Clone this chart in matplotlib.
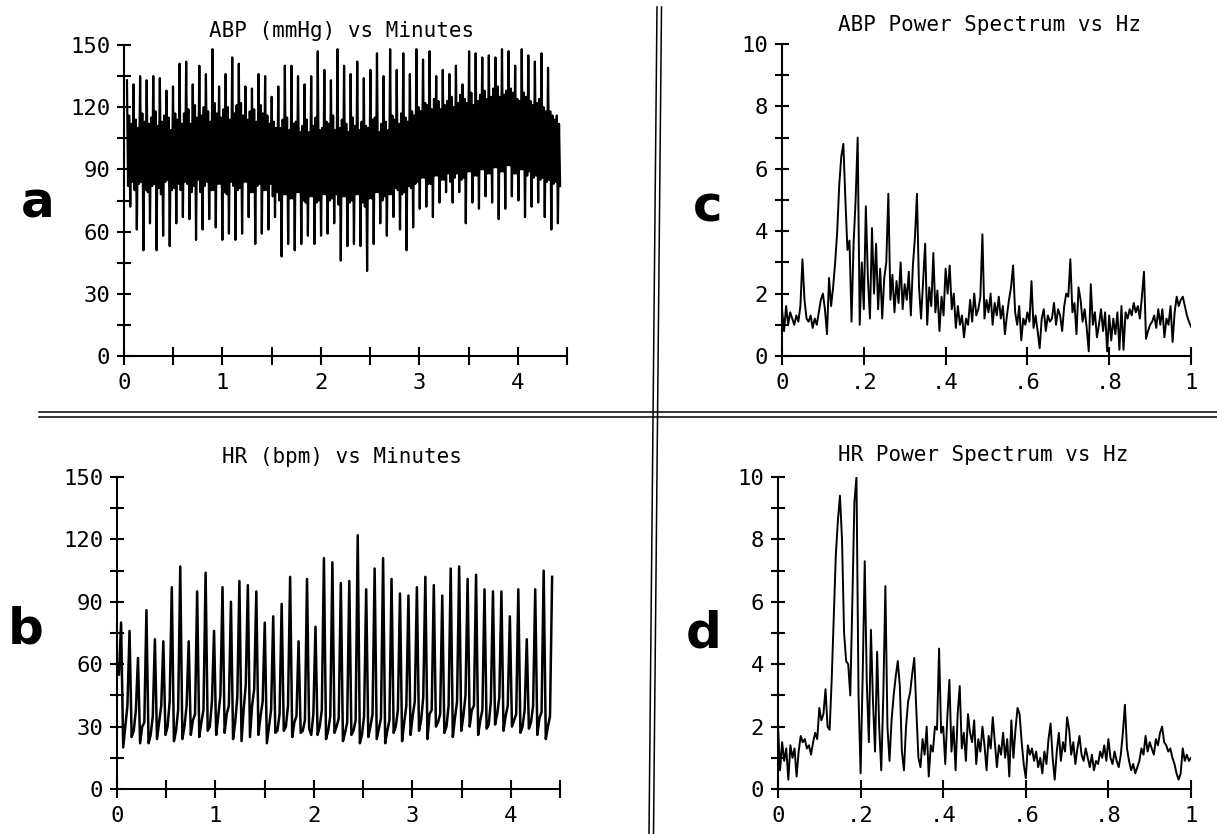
import matplotlib.pyplot as plt
import numpy as np
from matplotlib.lines import Line2D

plt.rcParams["font.family"] = ["DejaVu Sans Mono", "DejaVu Sans"]

W, H = 1217, 834

# ABP (mmHg) vs minutes: upward spikes, downward spikes and the dense core between them
abp_peak = [133, 131, 135, 133, 135, 134, 128, 130, 141, 142,
            131, 140, 136, 148, 130, 136, 144, 141, 130, 129,
            136, 135, 125, 130, 140, 140, 135, 131, 135, 147,
            138, 133, 148, 140, 136, 142, 134, 138, 146, 135,
            148, 138, 146, 136, 148, 143, 147, 135, 138, 136,
            140, 131, 147, 146, 144, 145, 144, 148, 147, 140,
            148, 145, 142, 146, 139, 114]
abp_trough = [72, 61, 51, 64, 51, 58, 53, 64, 67, 66,
              56, 61, 66, 62, 56, 59, 56, 59, 67, 54,
              59, 61, 67, 48, 54, 51, 54, 58, 54, 58,
              59, 64, 46, 53, 54, 53, 41, 54, 64, 58,
              67, 61, 51, 62, 71, 72, 67, 74, 79, 74,
              79, 64, 74, 71, 77, 74, 66, 71, 77, 75,
              67, 72, 74, 67, 61, 64]
# core band, four samples per spike cycle: high, low, high, low
abp_core = [116, 82, 112, 84, 114, 80, 110, 83, 117, 84, 113, 80, 112, 79, 115, 82,
            118, 83, 111, 81, 113, 78, 116, 84, 115, 85, 109, 80, 117, 81, 114, 83,
            112, 80, 117, 84, 119, 83, 112, 79, 121, 82, 115, 85, 116, 79, 120, 82,
            118, 84, 113, 80, 122, 80, 117, 83, 115, 83, 119, 79, 120, 78, 114, 84,
            117, 82, 121, 80, 122, 81, 116, 84, 114, 84, 118, 79, 119, 79, 113, 82,
            121, 83, 117, 80, 116, 80, 112, 83, 113, 77, 110, 79, 110, 75, 114, 78,
            115, 78, 109, 76, 112, 76, 113, 79, 108, 79, 111, 75, 114, 74, 108, 77,
            111, 77, 115, 74, 109, 75, 110, 78, 113, 78, 112, 75, 116, 76, 109, 78,
            110, 73, 114, 77, 112, 77, 108, 74, 115, 75, 111, 78, 109, 78, 113, 74,
            111, 72, 110, 76, 114, 76, 115, 79, 108, 79, 112, 75, 113, 77, 109, 78,
            116, 78, 114, 81, 112, 80, 117, 78, 115, 79, 113, 82, 118, 81, 116, 83,
            120, 84, 118, 86, 122, 86, 121, 83, 119, 83, 124, 87, 123, 87, 119, 85,
            121, 85, 123, 88, 125, 84, 120, 86, 122, 88, 126, 85, 124, 86, 122, 89,
            127, 89, 121, 87, 123, 87, 126, 90, 128, 90, 124, 88, 125, 88, 129, 91,
            130, 91, 125, 89, 126, 89, 128, 92, 129, 92, 127, 88, 124, 88, 123, 90,
            127, 90, 125, 87, 123, 89, 121, 86, 122, 87, 124, 85, 120, 86, 118, 84,
            118, 85, 116, 83, 116, 84, 112, 82]

# HR (bpm) vs minutes: level before each spike, spike top, drop after it, level after the drop
hr_pre = [55, 40, 38, 32, 35, 40, 42, 38, 40, 36,
          38, 42, 45, 40, 44, 50, 48, 42, 38, 36,
          40, 35, 33, 36, 38, 35, 34, 32, 33, 35,
          36, 34, 33, 38, 40, 42, 44, 38, 36, 40,
          42, 45, 40, 38, 42, 44, 40, 36, 38, 40,
          37, 35]
hr_peak = [80, 76, 63, 86, 72, 71, 97, 107, 71, 95,
           104, 76, 97, 90, 100, 98, 95, 80, 83, 89,
           102, 71, 101, 78, 111, 109, 99, 100, 122, 96,
           106, 111, 101, 94, 93, 97, 102, 98, 93, 106,
           107, 101, 103, 96, 95, 95, 83, 96, 72, 96,
           105, 102]
hr_trough = [20, 25, 22, 22, 24, 26, 23, 24, 26, 25,
             28, 26, 27, 24, 23, 25, 26, 22, 27, 28,
             25, 27, 29, 26, 24, 27, 23, 26, 22, 25,
             24, 22, 27, 23, 26, 28, 24, 30, 27, 25,
             28, 30, 26, 29, 31, 28, 30, 27, 29, 26,
             24]
hr_post = [30, 28, 30, 26, 32, 30, 28, 30, 33, 32,
           30, 35, 36, 32, 38, 40, 35, 30, 28, 30,
           32, 28, 26, 30, 28, 30, 27, 28, 26, 30,
           29, 28, 30, 32, 35, 33, 36, 32, 30, 34,
           35, 38, 33, 31, 36, 35, 33, 30, 32, 34,
           30]

# power spectra, 0 to 1 Hz in steps of 0.005 Hz
abp_spec = [1.5, 0.8, 1.6, 1.0, 1.4, 1.2, 1.0, 1.3, 1.1, 1.6,
            3.1, 1.8, 1.2, 1.1, 1.3, 0.9, 1.2, 1.0, 1.4, 1.8,
            2.0, 1.5, 0.7, 2.5, 1.6, 2.2, 3.0, 4.0, 5.5, 6.4,
            6.8, 5.0, 3.4, 3.7, 1.1, 3.6, 5.0, 7.0, 1.0, 3.0,
            1.5, 4.8, 2.5, 1.2, 4.1, 2.0, 3.6, 1.5, 2.8, 1.2,
            2.5, 3.0, 5.2, 1.8, 2.6, 1.4, 2.4, 1.7, 3.0, 1.5,
            2.3, 1.8, 2.7, 1.3, 2.9, 3.8, 5.2, 2.2, 1.2, 2.4,
            3.6, 1.0, 2.2, 1.6, 3.3, 1.4, 2.1, 0.8, 1.9, 1.3,
            2.8, 2.0, 2.9, 1.5, 2.0, 0.9, 1.6, 1.0, 1.3, 0.6,
            1.2, 1.0, 1.8, 1.1, 2.0, 1.3, 1.5, 1.9, 3.9, 1.2,
            1.8, 1.4, 2.0, 1.0, 1.7, 1.3, 1.9, 1.2, 1.6, 0.7,
            1.3, 1.8, 2.2, 2.9, 1.4, 1.0, 1.6, 0.5, 1.2, 1.0,
            1.4, 1.1, 2.4, 0.9, 1.3, 0.8, 0.25, 1.2, 1.5, 0.8,
            1.3, 1.1, 1.2, 1.7, 1.0, 1.5, 1.3, 0.8, 1.6, 2.0,
            1.9, 3.1, 1.4, 1.7, 0.7, 2.2, 1.8, 1.1, 1.5, 0.9,
            0.15, 2.3, 1.0, 1.4, 0.6, 1.0, 1.5, 0.8, 1.4, 0.15,
            1.3, 0.5, 1.2, 0.7, 1.4, 0.2, 1.6, 0.2, 1.4, 1.2,
            1.5, 1.3, 1.7, 1.4, 1.6, 1.2, 1.9, 2.7, 0.55, 0.8,
            1.0, 1.1, 1.3, 0.9, 1.5, 1.0, 1.5, 0.6, 1.2, 1.0,
            1.6, 0.45, 1.4, 1.9, 1.6, 1.8, 1.9, 1.6, 1.3, 1.1,
            0.94]
hr_spec = [2.0, 0.6, 1.5, 0.9, 1.3, 0.3, 1.4, 1.0, 1.3, 0.4,
           1.2, 1.7, 1.5, 1.6, 1.3, 1.4, 1.1, 1.5, 1.8, 1.6,
           2.6, 2.2, 2.4, 3.2, 2.0, 1.9, 3.5, 5.5, 7.5, 8.6,
           9.4, 8.0, 5.0, 4.1, 4.0, 3.0, 6.0, 9.2, 10.0, 3.0,
           0.5, 3.6, 7.3, 3.4, 1.5, 5.1, 2.8, 1.2, 4.4, 2.0,
           0.6, 3.0, 6.5, 2.0, 0.9, 2.2, 3.0, 3.6, 4.1, 3.3,
           1.2, 0.6, 2.0, 2.8, 3.1, 3.7, 4.2, 2.5, 1.0, 0.7,
           1.6, 1.1, 2.0, 0.4, 1.4, 1.2, 2.0, 1.9, 4.5, 1.8,
           2.0, 0.8, 2.3, 3.5, 1.2, 2.0, 0.6, 2.4, 3.3, 1.3,
           1.8, 0.9, 2.4, 1.8, 1.5, 2.2, 0.8, 1.6, 1.2, 2.0,
           1.4, 0.6, 1.7, 1.3, 2.3, 1.5, 0.7, 1.4, 1.1, 1.8,
           1.0, 1.6, 0.4, 2.2, 1.0, 1.9, 2.6, 2.4, 1.5, 0.8,
           0.35, 1.4, 1.1, 1.3, 0.9, 1.2, 0.7, 1.0, 0.5, 1.2,
           0.8, 1.6, 2.1, 1.0, 0.3, 1.2, 1.8, 0.9, 1.5, 1.2,
           2.3, 1.9, 1.1, 1.5, 0.8, 1.3, 1.7, 1.1, 0.9, 1.3,
           1.0, 0.7, 1.1, 0.6, 0.9, 0.8, 1.2, 1.0, 1.4, 0.9,
           1.6, 1.0, 0.8, 1.2, 0.9, 0.7, 1.1, 1.8, 2.7, 1.3,
           0.9, 0.6, 0.8, 0.5, 0.7, 0.9, 1.3, 1.1, 1.7, 1.2,
           1.5, 1.3, 1.1, 1.6, 1.4, 1.8, 2.0, 1.5, 1.4, 1.2,
           1.3, 1.0, 0.8, 0.5, 0.3, 0.5, 1.3, 0.9, 1.1, 0.9,
           1.0]

time_ticks = [0, 1, 2, 3, 4]
freq_ticks = [0, 0.2, 0.4, 0.6, 0.8, 1.0]
freq_labels = ["0", ".2", ".4", ".6", ".8", "1"]


def px_box(left, right, bottom, top):
    """axes rectangle from pixel edges of the 1217x834 canvas"""
    return [left / W, 1 - bottom / H, (right - left) / W, (bottom - top) / H]


def style_axes(ax):
    for side in ["top", "right"]:
        ax.spines[side].set_visible(False)
    for side in ["left", "bottom"]:
        ax.spines[side].set_linewidth(1.5)
    ax.tick_params(which="both", direction="inout", width=1.5, labelsize=16)
    ax.tick_params(axis="y", which="both", length=10, pad=5)
    ax.tick_params(axis="x", which="both", length=13, pad=6)
    ax.patch.set_alpha(0)


def time_axes(ax):
    style_axes(ax)
    ax.set_xlim(0, 4.5)
    ax.set_ylim(0, 150)
    ax.set_xticks(time_ticks)
    ax.set_xticks(np.arange(0.5, 4.6, 1.0), minor=True)
    ax.set_yticks(range(0, 151, 30))
    ax.set_yticks(range(15, 150, 30), minor=True)


def spec_axes(ax):
    style_axes(ax)
    ax.set_xlim(0, 1)
    ax.set_ylim(0, 10)
    ax.set_xticks(freq_ticks)
    ax.set_xticklabels(freq_labels)
    ax.set_yticks(range(0, 11, 2))
    ax.set_yticks(range(1, 10, 2), minor=True)


# build the sampled traces: the core samples swing across the band between each spike
abp = []
for i in range(len(abp_peak)):
    c = abp_core[4 * i:4 * i + 4]
    abp += [abp_peak[i], c[1], c[0], abp_trough[i], c[2], c[3]]
abp_t = np.linspace(0.03, 4.43, len(abp))

hr = []
for i in range(len(hr_peak)):
    hr += [hr_pre[i], hr_peak[i]]
    if i < len(hr_trough):
        hr += [hr_trough[i], hr_post[i]]
hr_t = np.linspace(0.02, 4.42, len(hr))

freq_c = np.linspace(0, 1, len(abp_spec))
freq_d = np.linspace(0, 1, len(hr_spec))

fig = plt.figure(figsize=(W / 100, H / 100), dpi=100)

ax_a = fig.add_axes(px_box(124, 567, 356, 45))
ax_a.plot(abp_t, abp, color="black", lw=1.6)
time_axes(ax_a)

ax_b = fig.add_axes(px_box(117, 560, 789, 477))
ax_b.plot(hr_t, hr, color="black", lw=1.8)
time_axes(ax_b)

ax_c = fig.add_axes(px_box(782, 1191, 356, 44))
ax_c.plot(freq_c, abp_spec, color="black", lw=1.4)
spec_axes(ax_c)

ax_d = fig.add_axes(px_box(778, 1191, 789, 477))
ax_d.plot(freq_d, hr_spec, color="black", lw=1.4)
spec_axes(ax_d)

# titles above each panel
fig.text(342 / W, 1 - 31 / H, "ABP (mmHg) vs Minutes", ha="center", va="center", fontsize=15)
fig.text(342 / W, 1 - 457 / H, "HR (bpm) vs Minutes", ha="center", va="center", fontsize=15)
fig.text(990 / W, 1 - 25 / H, "ABP Power Spectrum vs Hz", ha="center", va="center", fontsize=15)
fig.text(983 / W, 1 - 455 / H, "HR Power Spectrum vs Hz", ha="center", va="center", fontsize=15)

# panel letters
for letter, cx, base in [("a", 38, 218), ("b", 26, 643), ("c", 708, 222), ("d", 704, 648)]:
    fig.text(cx / W, 1 - base / H, letter, ha="center", va="baseline",
             fontsize=36, fontweight="bold", family="DejaVu Sans")

# double divider lines between the panels
for dx in [0, 4.5]:
    fig.add_artist(Line2D([(657 + dx) / W, (649 + dx) / W], [1 - 7 / H, 0], color="black", lw=1.1))
for dy in [412, 416.5]:
    fig.add_artist(Line2D([39 / W, 1], [1 - dy / H, 1 - dy / H], color="black", lw=1.1))

plt.savefig("out.png", dpi=100)
